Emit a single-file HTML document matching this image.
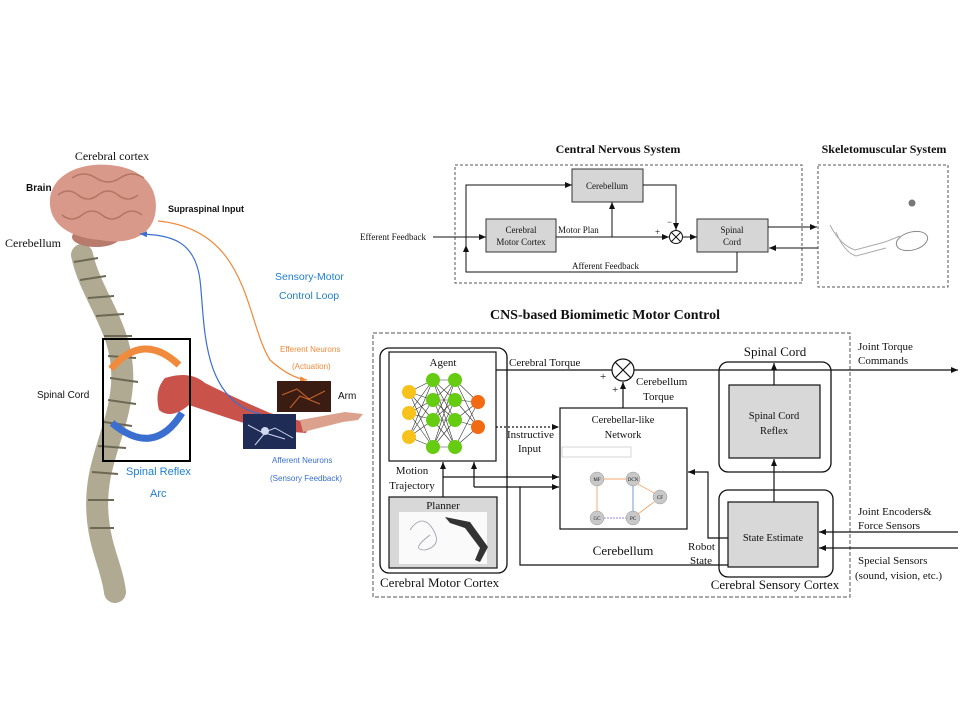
<!DOCTYPE html>
<html><head><meta charset="utf-8"><style>
html,body{margin:0;padding:0;background:#fff;width:960px;height:720px;overflow:hidden}
svg{display:block}
text{font-family:"Liberation Serif",serif;fill:#111}
.s{font-family:"Liberation Sans",sans-serif}
</style></head><body>
<svg width="960" height="720" viewBox="0 0 960 720" xmlns="http://www.w3.org/2000/svg">
<defs>
<marker id="a" markerWidth="8" markerHeight="8" refX="7" refY="4" orient="auto" markerUnits="userSpaceOnUse"><path d="M0,1 L7,4 L0,7 z" fill="#111"/></marker>
<marker id="ao" markerWidth="8" markerHeight="8" refX="7" refY="4" orient="auto" markerUnits="userSpaceOnUse"><path d="M0,1 L7,4 L0,7 z" fill="#f08a3c"/></marker>
<marker id="ab" markerWidth="8" markerHeight="8" refX="7" refY="4" orient="auto" markerUnits="userSpaceOnUse"><path d="M0,1 L7,4 L0,7 z" fill="#3a6fd0"/></marker>
</defs>

<!-- LEFT ILLUSTRATION -->
<text x="112" y="160" font-size="12" text-anchor="middle">Cerebral cortex</text>
<text x="26" y="191" font-size="10" class="s" font-weight="bold">Brain</text>
<path d="M82,255 C92,300 126,330 122,385 C118,435 92,465 98,520 C101,550 112,568 115,592" stroke="#b0aa92" stroke-width="22" fill="none" stroke-linecap="round"/>
<g stroke="#6c6853" stroke-width="2">
<line x1="74" y1="262" x2="98" y2="258"/><line x1="80" y1="280" x2="106" y2="276"/><line x1="88" y1="298" x2="114" y2="296"/><line x1="96" y1="316" x2="124" y2="314"/><line x1="104" y1="336" x2="132" y2="336"/><line x1="108" y1="356" x2="136" y2="358"/><line x1="110" y1="378" x2="138" y2="382"/><line x1="108" y1="400" x2="136" y2="404"/><line x1="104" y1="422" x2="132" y2="426"/><line x1="98" y1="446" x2="126" y2="448"/><line x1="92" y1="472" x2="118" y2="474"/><line x1="88" y1="500" x2="114" y2="500"/><line x1="90" y1="528" x2="114" y2="528"/>
</g>
<ellipse cx="96" cy="237" rx="24" ry="10" fill="#b77a6c"/>
<path d="M50,205 C48,175 80,162 110,165 C145,168 160,190 155,215 C150,238 125,245 100,240 C75,238 52,228 50,205z" fill="#d9998a"/>
<path d="M58,195 q10,-8 20,0 t20,0 t20,0 t20,0 M62,215 q10,8 20,0 t20,0 t20,0 t20,0 M72,178 q12,-8 24,0 t24,0 t24,0" stroke="#b47564" fill="none" stroke-width="1.5"/>
<text x="5" y="247" font-size="12">Cerebellum</text>
<text x="168" y="212" font-size="9" class="s" font-weight="bold">Supraspinal Input</text>
<text x="37" y="398" font-size="10" class="s">Spinal Cord</text>
<path d="M165,378 q25,-8 40,5 q30,15 65,30 q30,8 40,10 l-4,10 q-40,-2 -75,-14 q-30,-10 -42,-14 q-18,15 -30,5 q-5,-20 6,-32z" fill="#c9524a"/>
<path d="M300,420 l45,-8 l18,2 l-5,6 l-15,2 l-40,10z" fill="#dba18c"/>
<rect x="103" y="339" width="87" height="122" fill="none" stroke="#000" stroke-width="2"/>
<path d="M111,369 q32,-38 68,-4" stroke="#f08a3c" stroke-width="7" fill="none" marker-end="url(#ao)"/>
<path d="M182,413 q-28,45 -70,10" stroke="#3a6fd0" stroke-width="7" fill="none" marker-end="url(#ab)"/>
<text x="126" y="475" font-size="11" class="s" style="fill:#1e7fcf">Spinal Reflex</text>
<text x="150" y="497" font-size="11" class="s" style="fill:#1e7fcf">Arc</text>
<path d="M158,221 C250,230 245,320 270,360 Q290,378 307,380" stroke="#f08a3c" fill="none" stroke-width="1.2" marker-end="url(#ao)"/>
<path d="M260,414 C200,400 205,320 200,280 C195,240 170,235 140,234" stroke="#3a6fd0" fill="none" stroke-width="1.2" marker-end="url(#ab)"/>
<text x="275" y="280" font-size="10.5" class="s" style="fill:#1e7fcf">Sensory-Motor</text>
<text x="279" y="299" font-size="10.5" class="s" style="fill:#1e7fcf">Control Loop</text>
<text x="280" y="352" font-size="8" class="s" style="fill:#f08a3c">Efferent Neurons</text>
<text x="292" y="369" font-size="8" class="s" style="fill:#f08a3c">(Actuation)</text>
<rect x="277" y="381" width="54" height="31" fill="#3a1c12"/>
<path d="M282,395 l15,-6 l12,10 l16,-8 M290,408 l10,-12 l20,8" stroke="#c8632c" fill="none"/>
<text x="338" y="399" font-size="10" class="s">Arm</text>
<rect x="243" y="414" width="53" height="35" fill="#1f2c55"/>
<path d="M248,425 l15,8 l12,-5 l18,10 M255,445 l10,-12 l20,6" stroke="#cfd8f0" fill="none"/>
<circle cx="265" cy="431" r="4" fill="#cfd8f0"/>
<text x="272" y="463" font-size="8" class="s" style="fill:#3a6fd0">Afferent Neurons</text>
<text x="270" y="481" font-size="8" class="s" style="fill:#3a6fd0">(Sensory Feedback)</text>

<!-- TOP RIGHT CNS -->
<text x="618" y="153" font-size="12" font-weight="bold" text-anchor="middle">Central Nervous System</text>
<text x="884" y="153" font-size="12" font-weight="bold" text-anchor="middle">Skeletomuscular System</text>
<rect x="455" y="165" width="347" height="118" fill="none" stroke="#555" stroke-dasharray="3,2"/>
<rect x="818" y="165" width="130" height="122" fill="none" stroke="#555" stroke-dasharray="3,2"/>
<g fill="#d6d6d6" stroke="#333">
<rect x="572" y="169" width="71" height="33"/>
<rect x="486" y="219" width="70" height="33"/>
<rect x="697" y="219" width="71" height="33"/>
</g>
<text x="607" y="189" font-size="9" text-anchor="middle">Cerebellum</text>
<text x="521" y="233" font-size="9" text-anchor="middle">Cerebral</text>
<text x="521" y="245" font-size="9" text-anchor="middle">Motor Cortex</text>
<text x="732" y="233" font-size="9" text-anchor="middle">Spinal</text>
<text x="732" y="245" font-size="9" text-anchor="middle">Cord</text>
<text x="360" y="240" font-size="9">Efferent Feedback</text>
<g stroke="#111" fill="none" stroke-width="1">
<line x1="433" y1="237" x2="486" y2="237" marker-end="url(#a)"/>
<polyline points="737,252 737,272 466,272 466,245" marker-end="url(#a)"/>
<polyline points="466,245 466,185 572,185" marker-end="url(#a)"/>
<line x1="556" y1="237" x2="669" y2="237" marker-end="url(#a)"/>
<line x1="612" y1="237" x2="612" y2="202" marker-end="url(#a)"/>
<polyline points="643,185 676,185 676,230" marker-end="url(#a)"/>
<line x1="683" y1="237" x2="697" y2="237" marker-end="url(#a)"/>
<circle cx="676" cy="237" r="6.5"/>
<line x1="671" y1="232" x2="681" y2="242"/><line x1="681" y1="232" x2="671" y2="242"/>
<line x1="768" y1="227" x2="817" y2="227" marker-end="url(#a)"/>
<line x1="818" y1="248" x2="769" y2="248" marker-end="url(#a)"/>
</g>
<text x="558" y="233" font-size="9">Motor Plan</text>
<text x="655" y="235" font-size="9">+</text>
<text x="667" y="225" font-size="9">−</text>
<text x="572" y="269" font-size="9">Afferent Feedback</text>
<circle cx="912" cy="203" r="3.5" fill="#777"/>
<path d="M830,225 q10,20 25,25 l30,-8 l15,-6" stroke="#aaa" fill="none"/>
<path d="M836,232 q8,20 20,24 l30,-8" stroke="#aaa" fill="none"/>
<ellipse cx="912" cy="241" rx="16" ry="9" fill="none" stroke="#888" transform="rotate(-15 912 241)"/>

<!-- BOTTOM CNS-based -->
<text x="605" y="319" font-size="14" font-weight="bold" text-anchor="middle">CNS-based Biomimetic Motor Control</text>
<rect x="373" y="333" width="477" height="264" fill="none" stroke="#555" stroke-dasharray="4,2"/>
<rect x="380" y="348" width="127" height="225" rx="9" fill="none" stroke="#111" stroke-width="1.3"/>
<rect x="389" y="352" width="107" height="109" fill="#fff" stroke="#111" stroke-width="1.2"/>
<text x="443" y="366" font-size="11" text-anchor="middle">Agent</text>
<g stroke="#333" stroke-width="0.6">
<line x1="409" y1="392" x2="433" y2="380"/><line x1="409" y1="392" x2="433" y2="400"/><line x1="409" y1="392" x2="433" y2="420"/><line x1="409" y1="392" x2="433" y2="447"/>
<line x1="409" y1="413" x2="433" y2="380"/><line x1="409" y1="413" x2="433" y2="400"/><line x1="409" y1="413" x2="433" y2="420"/><line x1="409" y1="413" x2="433" y2="447"/>
<line x1="409" y1="437" x2="433" y2="380"/><line x1="409" y1="437" x2="433" y2="400"/><line x1="409" y1="437" x2="433" y2="420"/><line x1="409" y1="437" x2="433" y2="447"/>
<line x1="433" y1="380" x2="455" y2="380"/><line x1="433" y1="380" x2="455" y2="400"/><line x1="433" y1="380" x2="455" y2="420"/><line x1="433" y1="380" x2="455" y2="447"/>
<line x1="433" y1="400" x2="455" y2="380"/><line x1="433" y1="400" x2="455" y2="400"/><line x1="433" y1="400" x2="455" y2="420"/><line x1="433" y1="400" x2="455" y2="447"/>
<line x1="433" y1="420" x2="455" y2="380"/><line x1="433" y1="420" x2="455" y2="400"/><line x1="433" y1="420" x2="455" y2="420"/><line x1="433" y1="420" x2="455" y2="447"/>
<line x1="433" y1="447" x2="455" y2="380"/><line x1="433" y1="447" x2="455" y2="400"/><line x1="433" y1="447" x2="455" y2="420"/><line x1="433" y1="447" x2="455" y2="447"/>
<line x1="455" y1="380" x2="478" y2="402"/><line x1="455" y1="380" x2="478" y2="427"/><line x1="455" y1="400" x2="478" y2="402"/><line x1="455" y1="400" x2="478" y2="427"/>
<line x1="455" y1="420" x2="478" y2="402"/><line x1="455" y1="420" x2="478" y2="427"/><line x1="455" y1="447" x2="478" y2="402"/><line x1="455" y1="447" x2="478" y2="427"/>
</g>
<g fill="#f7c21a"><circle cx="409" cy="392" r="7"/><circle cx="409" cy="413" r="7"/><circle cx="409" cy="437" r="7"/></g>
<g fill="#66cc11"><circle cx="433" cy="380" r="7"/><circle cx="433" cy="400" r="7"/><circle cx="433" cy="420" r="7"/><circle cx="433" cy="447" r="7"/><circle cx="455" cy="380" r="7"/><circle cx="455" cy="400" r="7"/><circle cx="455" cy="420" r="7"/><circle cx="455" cy="447" r="7"/></g>
<g fill="#f26a12"><circle cx="478" cy="402" r="7"/><circle cx="478" cy="427" r="7"/></g>
<text x="412" y="474" font-size="11" text-anchor="middle">Motion</text>
<text x="412" y="489" font-size="11" text-anchor="middle">Trajectory</text>
<rect x="389" y="497" width="108" height="71" fill="#d8d8d8" stroke="#111" stroke-width="1.2"/>
<text x="443" y="509" font-size="11" text-anchor="middle">Planner</text>
<rect x="399" y="512" width="88" height="52" fill="#fafafa"/>
<path d="M445,517 l25,5 l18,25 l-8,15 l-5,-2 l5,-12 l-15,-20 l-15,-5z" fill="#333"/>
<path d="M410,530 q10,-15 20,-5 q15,20 -5,25 q-15,0 5,-15" stroke="#99a" fill="none" stroke-width="0.8"/>
<text x="380" y="587" font-size="13">Cerebral Motor Cortex</text>

<rect x="560" y="408" width="127" height="121" fill="#fff" stroke="#111" stroke-width="1.2"/>
<text x="623" y="423" font-size="10.5" text-anchor="middle">Cerebellar-like</text>
<text x="623" y="438" font-size="10.5" text-anchor="middle">Network</text>
<rect x="562" y="447" width="69" height="10" fill="none" stroke="#aaa" stroke-width="0.5"/>
<g fill="#c8c8c8" stroke="#999" stroke-width="0.5">
<circle cx="597" cy="479" r="7"/><circle cx="633" cy="479" r="7"/><circle cx="660" cy="497" r="7"/><circle cx="597" cy="518" r="7"/><circle cx="633" cy="518" r="7"/>
</g>
<g stroke="#f08a3c" stroke-width="0.7"><line x1="604" y1="479" x2="626" y2="479"/><line x1="597" y1="486" x2="597" y2="511"/><line x1="638" y1="484" x2="654" y2="493"/><line x1="638" y1="514" x2="654" y2="502"/></g>
<line x1="633" y1="511" x2="633" y2="486" stroke="#3a6fd0" stroke-width="0.7"/>
<line x1="604" y1="518" x2="626" y2="518" stroke="#7a5ad0" stroke-width="0.7" stroke-dasharray="2,1"/>
<g font-size="5" text-anchor="middle"><text x="597" y="481">MF</text><text x="633" y="481">DCN</text><text x="660" y="499">CF</text><text x="597" y="520">GC</text><text x="633" y="520">PC</text></g>
<text x="623" y="555" font-size="13" text-anchor="middle">Cerebellum</text>

<rect x="719" y="362" width="112" height="110" rx="9" fill="none" stroke="#111" stroke-width="1.3"/>
<rect x="729" y="385" width="91" height="73" fill="#d8d8d8" stroke="#111" stroke-width="1.2"/>
<text x="774" y="419" font-size="10.5" text-anchor="middle">Spinal Cord</text>
<text x="774" y="434" font-size="10.5" text-anchor="middle">Reflex</text>
<text x="775" y="356" font-size="13" text-anchor="middle">Spinal Cord</text>
<rect x="719" y="490" width="114" height="87" rx="9" fill="none" stroke="#111" stroke-width="1.3"/>
<rect x="728" y="502" width="90" height="65" fill="#d8d8d8" stroke="#111" stroke-width="1.2"/>
<text x="773" y="541" font-size="10.5" text-anchor="middle">State Estimate</text>
<text x="775" y="589" font-size="13" text-anchor="middle">Cerebral Sensory Cortex</text>

<g stroke="#111" fill="none" stroke-width="1.2">
<line x1="496" y1="370" x2="612" y2="370"/>
<line x1="634" y1="370" x2="958" y2="370" marker-end="url(#a)"/>
<circle cx="623" cy="370" r="11"/>
<line x1="615" y1="362" x2="631" y2="378"/><line x1="631" y1="362" x2="615" y2="378"/>
<line x1="623" y1="408" x2="623" y2="382" marker-end="url(#a)"/>
<line x1="496" y1="427" x2="559" y2="427" stroke-dasharray="2,2" marker-end="url(#a)"/>
<line x1="443" y1="497" x2="443" y2="462" marker-end="url(#a)"/>
<line x1="443" y1="477" x2="559" y2="477" marker-end="url(#a)"/>
<polyline points="474,487 474,462" marker-end="url(#a)"/>
<line x1="474" y1="487" x2="559" y2="487" marker-end="url(#a)"/>
<polyline points="728,565 520,565 520,487"/>
<polyline points="728,538 708,538 708,472 688,472" marker-end="url(#a)"/>
<line x1="774" y1="502" x2="774" y2="459" marker-end="url(#a)"/>
<line x1="774" y1="385" x2="774" y2="363" marker-end="url(#a)"/>
<line x1="958" y1="532" x2="819" y2="532" marker-end="url(#a)"/>
<line x1="958" y1="548" x2="819" y2="548" marker-end="url(#a)"/>
</g>
<text x="509" y="366" font-size="11">Cerebral Torque</text>
<text x="600" y="380" font-size="11">+</text>
<text x="612" y="393" font-size="11">+</text>
<text x="636" y="385" font-size="11">Cerebellum</text>
<text x="643" y="400" font-size="11">Torque</text>
<text x="507" y="438" font-size="11">Instructive</text>
<text x="518" y="452" font-size="11">Input</text>
<text x="688" y="550" font-size="11">Robot</text>
<text x="690" y="564" font-size="11">State</text>
<text x="858" y="350" font-size="11">Joint Torque</text>
<text x="858" y="364" font-size="11">Commands</text>
<text x="858" y="515" font-size="11">Joint Encoders&amp;</text>
<text x="858" y="529" font-size="11">Force Sensors</text>
<text x="858" y="564" font-size="11">Special Sensors</text>
<text x="855" y="579" font-size="11">(sound, vision, etc.)</text>
</svg>
</body></html>
